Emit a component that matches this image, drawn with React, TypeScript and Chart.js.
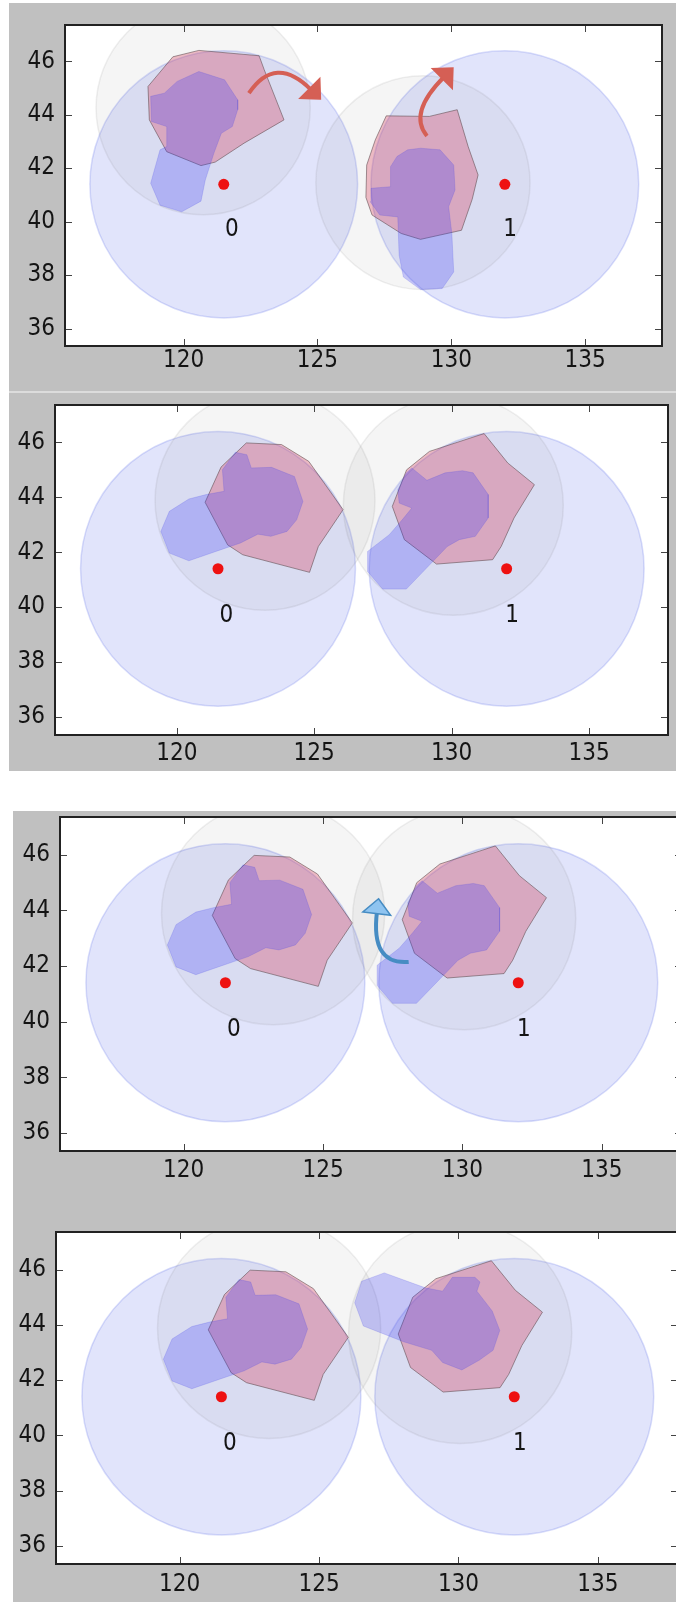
import React, { useEffect, useRef } from "react";
import { Chart, registerables } from "chart.js";

Chart.register(...registerables);

type Pt = [number, number];
type Circle = [number, number, number];

// ---------- axis ranges & ticks ----------
const X_MIN = 115.57;
const X_MAX = 137.87;
const Y_MIN = 35.35;
const Y_MAX = 47.36;
const xTickValues = [120, 125, 130, 135];
const yTickValues = [36, 38, 40, 42, 44, 46];

// ---------- centroids & labels ----------
const centroidX = [121.5, 132.0];
const centroidY = [41.4, 41.4];
const clusterLabels = ["0", "1"];
const labelX = [121.8, 132.2];
const labelY = [39.7, 39.7];

// ---------- big blue circles (x, y, r) ----------
const blueCircles: Circle[] = [
  [121.5, 41.4, 5],
  [132.0, 41.4, 5],
];

// ---------- gray circles ----------
const grayCirclesP1: Circle[] = [
  [120.73, 44.26, 4],
  [128.94, 41.46, 4],
];
const grayCirclesP2: Circle[] = [
  [123.21, 43.89, 4],
  [130.06, 43.71, 4],
];

// ---------- polygons, panel 1 ----------
const pinkA1: Pt[] = [
  [119.6, 46.17], [120.57, 46.41], [122.82, 46.21], [123.01, 45.69], [123.75, 43.81],
  [122.26, 42.94], [121.18, 42.23], [120.65, 42.1], [119.37, 42.62], [118.72, 43.81], [118.67, 45.06],
];
const blueA1: Pt[] = [
  [120.57, 45.62], [121.53, 45.31], [122.02, 44.56], [122.02, 44.19], [121.82, 43.56], [121.41, 43.31],
  [121.13, 42.56], [120.81, 41.56], [120.65, 40.77], [119.93, 40.37], [119.12, 40.62], [118.77, 41.44],
  [119.12, 42.69], [119.37, 42.81], [119.37, 43.56], [118.8, 43.75], [118.77, 44.69], [119.28, 44.81],
  [119.76, 45.25],
];
const pinkB1: Pt[] = [
  [127.57, 43.96], [129.18, 43.94], [130.22, 44.19], [130.63, 42.81], [131.0, 41.75], [130.78, 40.84],
  [130.38, 39.68], [128.85, 39.34], [128.13, 39.56], [127.04, 40.25], [126.81, 40.91], [126.84, 42.12],
  [127.16, 43.06],
];
const blueB1: Pt[] = [
  [128.37, 42.69], [128.85, 42.75], [129.58, 42.69], [130.09, 42.12], [130.14, 41.19], [129.9, 40.56],
  [130.02, 39.56], [130.09, 38.12], [129.66, 37.5], [128.85, 37.46], [128.21, 37.93], [128.05, 38.75],
  [128.0, 40.18], [127.33, 40.25], [126.97, 40.75], [127.0, 41.25], [127.73, 41.31], [127.73, 42.06],
  [127.97, 42.44],
];

// ---------- polygons, panels 2-4 ----------
const pinkA2: Pt[] = [
  [122.53, 45.98], [123.81, 45.92], [124.8, 45.31], [126.05, 43.55], [125.15, 42.21], [124.83, 41.27],
  [122.4, 41.91], [121.85, 42.27], [121.03, 43.82], [121.61, 45.1],
];
const blueA2: Pt[] = [
  [122.13, 45.64], [122.55, 45.55], [122.71, 45.07], [123.45, 45.09], [124.28, 44.76], [124.59, 43.85],
  [124.36, 43.18], [124.01, 42.76], [123.42, 42.58], [122.95, 42.66], [122.32, 42.34], [120.44, 41.69],
  [119.73, 41.97], [119.42, 42.76], [119.73, 43.49], [120.44, 43.94], [121.07, 44.1], [121.72, 44.22],
  [121.66, 45.0],
];
const pinkB2: Pt[] = [
  [129.19, 45.67], [131.18, 46.32], [132.04, 45.25], [133.01, 44.46], [132.27, 43.25], [131.8, 42.21],
  [131.49, 41.73], [129.45, 41.57], [128.28, 42.46], [127.84, 43.67], [128.36, 45.0],
];
const blueB2: Pt[] = [
  [128.55, 45.07], [129.1, 44.62], [129.76, 44.89], [130.39, 44.97], [130.78, 44.89], [131.33, 44.1],
  [131.33, 43.25], [130.86, 42.58], [130.28, 42.46], [129.84, 42.21], [128.35, 40.66], [127.49, 40.66],
  [126.94, 41.3], [126.94, 42.03], [127.73, 42.64], [128.2, 43.18], [128.55, 43.61], [128.09, 43.79],
  [128.04, 44.28], [128.35, 44.89],
];
const blueB4: Pt[] = [
  [127.34, 45.88], [128.81, 45.34], [129.43, 45.22], [129.78, 45.72], [130.59, 45.72], [130.77, 45.55],
  [130.66, 45.22], [131.21, 44.5], [131.48, 43.8], [131.24, 43.08], [130.74, 42.72], [130.12, 42.37],
  [129.43, 42.64], [129.04, 43.08], [128.03, 43.39], [126.59, 43.96], [126.28, 44.8], [126.53, 45.58],
];

// ---------- arrows (start, control, tip) in data units ----------
const redArrowStart: Pt[] = [[122.44, 44.81], [129.09, 43.21]];
const redArrowCtrl: Pt[] = [[123.43, 46.28], [128.38, 44.06]];
const redArrowTip: Pt[] = [[125.11, 44.59], [130.06, 45.75]];
const blueArrowStart: Pt[] = [[128.07, 42.15]];
const blueArrowCtrl: Pt[] = [[126.7, 42.03]];
const blueArrowTip: Pt[] = [[126.99, 44.42]];

// ---------- styles ----------
const FONT = "'DejaVu Sans Condensed', 'DejaVu Sans', sans-serif";
const FONT_SIZE = 24;
const TEXT_COLOR = "#141414";
const PANEL_BG = "#c0c0c0";
const BLUE_CIRCLE_FILL = "rgba(70, 90, 230, 0.16)";
const BLUE_CIRCLE_EDGE = "rgba(70, 90, 230, 0.2)";
const GRAY_CIRCLE_FILL = "rgba(120, 120, 120, 0.075)";
const GRAY_CIRCLE_EDGE = "rgba(120, 120, 120, 0.12)";
const PINK_FILL = "rgba(215, 50, 80, 0.3)";
const PINK_EDGE = "rgba(100, 80, 85, 0.6)";
const BLUE_POLY_FILL = "rgba(45, 45, 250, 0.24)";
const BLUE_POLY_EDGE = "rgba(60, 60, 230, 0.18)";
const DOT_COLOR = "#ee1111";

interface ArrowSpec {
  start: Pt;
  ctrl: Pt;
  tip: Pt;
  shaft: string;
  head: string;
  edge: string;
}

interface Panel {
  id: string;
  left: number;
  top: number;
  width: number;
  height: number;
  padTop: number;
  padRight: number;
  yW: number;
  xH: number;
  xLabelPad: number;
  pinks: Pt[][];
  blues: Pt[][];
  grays: Circle[];
  arrows: ArrowSpec[];
}

const RED_SHAFT = "#d55f55";
const BLUE_SHAFT = "#468cc3";
const BLUE_HEAD = "#8fc4f0";

const redArrows: ArrowSpec[] = redArrowStart.map((s, i) => ({
  start: s,
  ctrl: redArrowCtrl[i],
  tip: redArrowTip[i],
  shaft: RED_SHAFT,
  head: RED_SHAFT,
  edge: RED_SHAFT,
}));
const blueArrows: ArrowSpec[] = blueArrowStart.map((s, i) => ({
  start: s,
  ctrl: blueArrowCtrl[i],
  tip: blueArrowTip[i],
  shaft: BLUE_SHAFT,
  head: BLUE_HEAD,
  edge: BLUE_SHAFT,
}));

const panels: Panel[] = [
  {
    id: "p1", left: 9, top: 3, width: 667, height: 388,
    padTop: 22, padRight: 14, yW: 56, xH: 45, xLabelPad: 0,
    pinks: [pinkA1, pinkB1], blues: [blueA1, blueB1], grays: grayCirclesP1, arrows: redArrows,
  },
  {
    id: "p2", left: 9, top: 393, width: 667, height: 378,
    padTop: 12, padRight: 8, yW: 46, xH: 36, xLabelPad: 4,
    pinks: [pinkA2, pinkB2], blues: [blueA2, blueB2], grays: grayCirclesP2, arrows: [],
  },
  {
    id: "p3", left: 13, top: 811, width: 690, height: 380,
    padTop: 6, padRight: 21, yW: 47, xH: 40, xLabelPad: 5,
    pinks: [pinkA2, pinkB2], blues: [blueA2, blueB2], grays: grayCirclesP2, arrows: blueArrows,
  },
  {
    id: "p4", left: 13, top: 1191, width: 690, height: 411,
    padTop: 41, padRight: 25, yW: 43, xH: 38, xLabelPad: 6,
    pinks: [pinkA2, pinkB2], blues: [blueA2, blueB4], grays: grayCirclesP2, arrows: [],
  },
];

const closed = (pts: Pt[]) => [...pts, pts[0]].map(([x, y]) => ({ x, y }));

function makeOverlay(p: Panel) {
  const clipArea = (chart: any) => {
    const { ctx, chartArea: a } = chart;
    ctx.beginPath();
    ctx.rect(a.left, a.top, a.right - a.left, a.bottom - a.top);
    ctx.clip();
  };
  const drawCircle = (chart: any, c: Circle, fill: string, edge: string) => {
    const { ctx, scales } = chart;
    const xs = scales.x, ys = scales.y;
    const cx = xs.getPixelForValue(c[0]);
    const cy = ys.getPixelForValue(c[1]);
    const rx = Math.abs(xs.getPixelForValue(c[0] + c[2]) - cx);
    const ry = Math.abs(ys.getPixelForValue(c[1] + c[2]) - cy);
    ctx.beginPath();
    ctx.ellipse(cx, cy, rx, ry, 0, 0, Math.PI * 2);
    ctx.fillStyle = fill;
    ctx.fill();
    ctx.lineWidth = 1.5;
    ctx.strokeStyle = edge;
    ctx.stroke();
  };
  return {
    id: "overlay-" + p.id,
    beforeDraw(chart: any) {
      const { ctx, chartArea: a } = chart;
      ctx.save();
      ctx.fillStyle = "#ffffff";
      ctx.fillRect(a.left, a.top, a.right - a.left, a.bottom - a.top);
      ctx.restore();
    },
    beforeDatasetsDraw(chart: any) {
      const { ctx } = chart;
      ctx.save();
      clipArea(chart);
      blueCircles.forEach((c) => drawCircle(chart, c, BLUE_CIRCLE_FILL, BLUE_CIRCLE_EDGE));
      p.grays.forEach((c) => drawCircle(chart, c, GRAY_CIRCLE_FILL, GRAY_CIRCLE_EDGE));
      ctx.restore();
    },
    afterDatasetsDraw(chart: any) {
      const { ctx, scales } = chart;
      const xs = scales.x, ys = scales.y;
      ctx.save();
      clipArea(chart);
      // cluster labels
      ctx.font = `${FONT_SIZE}px ${FONT}`;
      ctx.fillStyle = TEXT_COLOR;
      ctx.textAlign = "center";
      ctx.textBaseline = "middle";
      clusterLabels.forEach((t, i) => {
        ctx.fillText(t, xs.getPixelForValue(labelX[i]), ys.getPixelForValue(labelY[i]));
      });
      // arrows
      p.arrows.forEach((a) => {
        const S = { x: xs.getPixelForValue(a.start[0]), y: ys.getPixelForValue(a.start[1]) };
        const C = { x: xs.getPixelForValue(a.ctrl[0]), y: ys.getPixelForValue(a.ctrl[1]) };
        const E = { x: xs.getPixelForValue(a.tip[0]), y: ys.getPixelForValue(a.tip[1]) };
        const dx = E.x - C.x, dy = E.y - C.y;
        const len = Math.hypot(dx, dy) || 1;
        const ux = dx / len, uy = dy / len;
        const L = 15, W = 14;
        const B = { x: E.x - ux * L, y: E.y - uy * L };
        ctx.beginPath();
        ctx.moveTo(S.x, S.y);
        ctx.quadraticCurveTo(C.x, C.y, B.x + ux * 2, B.y + uy * 2);
        ctx.strokeStyle = a.shaft;
        ctx.lineWidth = 4;
        ctx.lineCap = "butt";
        ctx.stroke();
        ctx.beginPath();
        ctx.moveTo(E.x, E.y);
        ctx.lineTo(B.x - uy * W, B.y + ux * W);
        ctx.lineTo(B.x + uy * W, B.y - ux * W);
        ctx.closePath();
        ctx.fillStyle = a.head;
        ctx.fill();
        ctx.lineWidth = 1.5;
        ctx.lineJoin = "miter";
        ctx.strokeStyle = a.edge;
        ctx.stroke();
      });
      ctx.restore();
    },
    afterDraw(chart: any) {
      const { ctx, chartArea: a, scales } = chart;
      const xs = scales.x, ys = scales.y;
      ctx.save();
      ctx.strokeStyle = "#444";
      ctx.lineWidth = 1;
      const T = 7;
      xTickValues.forEach((v) => {
        const X = Math.round(xs.getPixelForValue(v)) + 0.5;
        ctx.beginPath();
        ctx.moveTo(X, a.bottom);
        ctx.lineTo(X, a.bottom - T);
        ctx.moveTo(X, a.top);
        ctx.lineTo(X, a.top + T);
        ctx.stroke();
      });
      yTickValues.forEach((v) => {
        const Y = Math.round(ys.getPixelForValue(v)) + 0.5;
        ctx.beginPath();
        ctx.moveTo(a.left, Y);
        ctx.lineTo(a.left + T, Y);
        ctx.moveTo(a.right, Y);
        ctx.lineTo(a.right - T, Y);
        ctx.stroke();
      });
      ctx.strokeStyle = "#222";
      ctx.lineWidth = 2;
      ctx.strokeRect(a.left, a.top, a.right - a.left, a.bottom - a.top);
      ctx.restore();
    },
  };
}

function buildConfig(p: Panel): any {
  const polyDs = (pts: Pt[], fill: string, edge: string, order: number) => ({
    type: "line",
    data: closed(pts),
    fill: "shape",
    backgroundColor: fill,
    borderColor: edge,
    borderWidth: 1,
    pointRadius: 0,
    tension: 0,
    order,
  });
  const datasets: any[] = [
    ...p.pinks.map((pts) => polyDs(pts, PINK_FILL, PINK_EDGE, 3)),
    ...p.blues.map((pts) => polyDs(pts, BLUE_POLY_FILL, BLUE_POLY_EDGE, 2)),
    {
      type: "scatter",
      data: centroidX.map((x, i) => ({ x, y: centroidY[i] })),
      pointRadius: 5.5,
      pointBackgroundColor: DOT_COLOR,
      pointBorderWidth: 0,
      order: 1,
    },
  ];
  const tickFont = { family: FONT, size: FONT_SIZE };
  const zeroPad = (s: any) => {
    s.paddingLeft = 0;
    s.paddingRight = 0;
    s.paddingTop = 0;
    s.paddingBottom = 0;
  };
  return {
    type: "line",
    data: { datasets },
    plugins: [makeOverlay(p)],
    options: {
      animation: false,
      responsive: false,
      maintainAspectRatio: false,
      devicePixelRatio: 1,
      events: [],
      layout: { padding: { left: 0, top: p.padTop, right: p.padRight, bottom: 0 } },
      plugins: { legend: { display: false }, tooltip: { enabled: false } },
      scales: {
        x: {
          type: "linear",
          min: X_MIN,
          max: X_MAX,
          grid: { display: false, drawTicks: false },
          border: { display: false },
          afterBuildTicks: (s: any) => {
            s.ticks = xTickValues.map((v) => ({ value: v }));
          },
          afterFit: (s: any) => {
            s.height = p.xH;
            zeroPad(s);
          },
          ticks: {
            padding: p.xLabelPad,
            font: tickFont,
            color: TEXT_COLOR,
            maxRotation: 0,
            autoSkip: false,
            callback: (v: any) => String(v),
          },
        },
        y: {
          type: "linear",
          min: Y_MIN,
          max: Y_MAX,
          grid: { display: false, drawTicks: false },
          border: { display: false },
          afterBuildTicks: (s: any) => {
            s.ticks = yTickValues.map((v) => ({ value: v }));
          },
          afterFit: (s: any) => {
            s.width = p.yW;
            zeroPad(s);
          },
          ticks: {
            padding: 10,
            font: tickFont,
            color: TEXT_COLOR,
            autoSkip: false,
            callback: (v: any) => String(v),
          },
        },
      },
    },
  };
}

function PanelChart({ p }: { p: Panel }) {
  const ref = useRef<HTMLCanvasElement>(null);
  useEffect(() => {
    if (!ref.current) return;
    const chart = new Chart(ref.current, buildConfig(p));
    return () => chart.destroy();
  }, [p]);
  return (
    <canvas
      ref={ref}
      width={p.width}
      height={p.height}
      style={{ position: "absolute", left: p.left, top: p.top, width: p.width, height: p.height }}
    />
  );
}

export default function App() {
  return (
    <div
      style={{
        position: "absolute",
        left: 0,
        top: 0,
        width: 676,
        height: 1602,
        overflow: "hidden",
        background: "#ffffff",
      }}
    >
      <div style={{ position: "absolute", left: 9, top: 3, width: 667, height: 388, background: PANEL_BG }} />
      <div style={{ position: "absolute", left: 9, top: 391, width: 667, height: 2, background: "#dcdcdc" }} />
      <div style={{ position: "absolute", left: 9, top: 393, width: 667, height: 378, background: PANEL_BG }} />
      <div style={{ position: "absolute", left: 13, top: 811, width: 663, height: 791, background: PANEL_BG }} />
      {panels.map((p) => (
        <PanelChart key={p.id} p={p} />
      ))}
    </div>
  );
}
